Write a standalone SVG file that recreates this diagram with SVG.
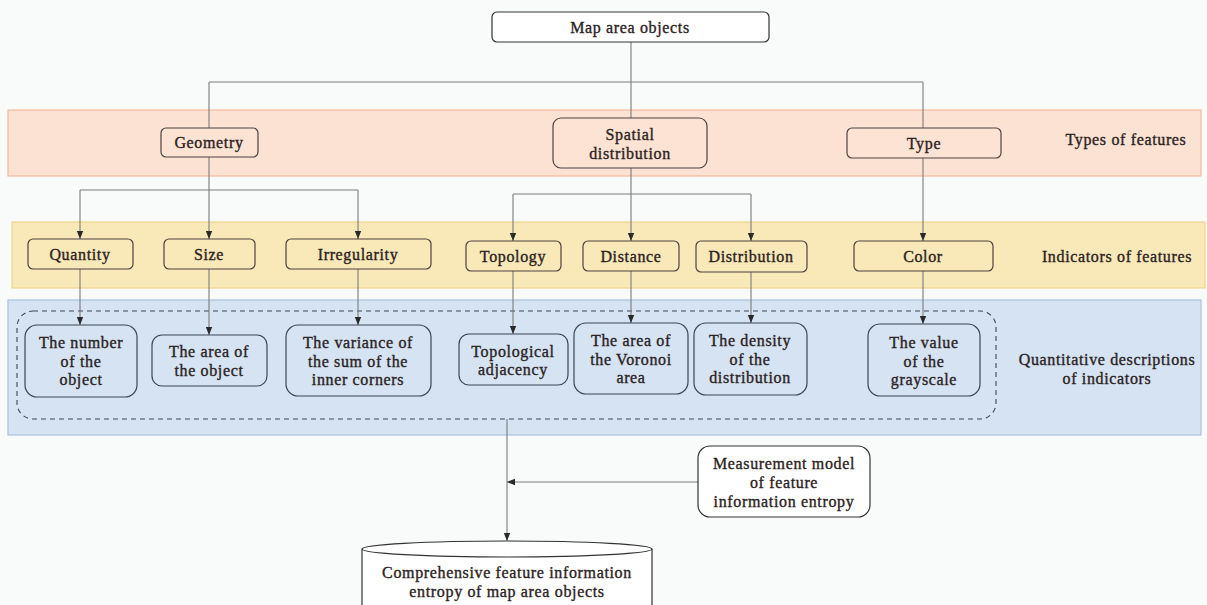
<svg xmlns="http://www.w3.org/2000/svg" width="1207" height="605" viewBox="0 0 1207 605">
<defs>
<marker id="arr" markerUnits="userSpaceOnUse" markerWidth="8" markerHeight="8" viewBox="0 0 8 8" refX="8" refY="4" orient="auto">
<path d="M0,0.8 L8,4 L0,7.2 Z" fill="#2a2a2a"/>
</marker>
<style>
.t,.lbl{font-family:"Liberation Serif","Times New Roman",serif;font-size:16px;font-weight:normal;letter-spacing:0.65px;fill:#2b2222;stroke:#2b2222;stroke-width:0.35px;text-anchor:middle}
.c{fill:none;stroke:#7a7a7a;stroke-width:1.1}
.a{marker-end:url(#arr)}
.o{fill:#fde3d3;stroke:#4e4242;stroke-width:1.2}
.y{fill:#f9e8b8;stroke:#4e4242;stroke-width:1.2}
.b{fill:#d5e3f3;stroke:#3d4756;stroke-width:1.2}
.w{fill:#ffffff;stroke:#333333;stroke-width:1.2}
</style>
</defs>
<rect x="0" y="0" width="1207" height="605" fill="#f9fafa"/>
<g id="bands">
<rect x="8" y="110" width="1193" height="66" fill="#fce2d2" stroke="#f4b99a" stroke-width="1.2"/>
<rect x="12" y="222" width="1193" height="66" fill="#f9e8b8" stroke="#f0d48c" stroke-width="1.2"/>
<rect x="8" y="300" width="1193" height="135" fill="#d5e3f3" stroke="#a9c1e2" stroke-width="1.2"/>
<rect x="17" y="311" width="979" height="108" rx="16" fill="none" stroke="#3d4756" stroke-width="1.1" stroke-dasharray="5,4"/>
</g>
<g id="band-labels">
<text class="lbl" x="1126" y="145">Types of features</text>
<text class="lbl" x="1117" y="262">Indicators of features</text>
<text class="lbl" x="1107" y="365">Quantitative descriptions</text>
<text class="lbl" x="1107" y="384">of indicators</text>
</g>
<g id="connectors">
<path class="c" d="M631,42 V118"/>
<path class="c" d="M209,82 H923"/>
<path class="c" d="M209,82 V128"/>
<path class="c" d="M923,82 V128"/>
<path class="c" d="M209,157 V190 M80,190 H358"/>
<path class="c a" d="M80,190 V239"/>
<path class="c a" d="M209,190 V239"/>
<path class="c a" d="M358,190 V239"/>
<path class="c" d="M631,168 V194 M513,194 H751"/>
<path class="c a" d="M513,194 V241"/>
<path class="c a" d="M631,194 V241"/>
<path class="c a" d="M751,194 V241"/>
<path class="c a" d="M923,158 V241"/>
<path class="c a" d="M80,269 V325"/>
<path class="c a" d="M209,269 V335"/>
<path class="c a" d="M358,269 V325"/>
<path class="c a" d="M513,271 V334"/>
<path class="c a" d="M631,271 V323"/>
<path class="c a" d="M751,272 V323"/>
<path class="c a" d="M923,271 V324"/>
<path class="c a" d="M507,419 V541"/>
<path class="c a" d="M698,482 H507"/>
</g>
<g id="map-area-objects"><rect class="w" x="492" y="12" width="277" height="30" rx="5"/><text class="t" x="630" y="33">Map area objects</text></g>
<g id="geometry"><rect class="o" x="161" y="128" width="97" height="29" rx="5"/><text class="t" x="209" y="148">Geometry</text></g>
<g id="spatial-distribution"><rect class="o" x="553" y="118" width="154" height="50" rx="8"/><text class="t" x="630" y="140">Spatial</text><text class="t" x="630" y="159">distribution</text></g>
<g id="type"><rect class="o" x="847" y="128" width="154" height="30" rx="5"/><text class="t" x="924" y="149">Type</text></g>
<g id="quantity"><rect class="y" x="28" y="239" width="105" height="30" rx="5"/><text class="t" x="80" y="260">Quantity</text></g>
<g id="size"><rect class="y" x="164" y="239" width="91" height="30" rx="5"/><text class="t" x="209" y="260">Size</text></g>
<g id="irregularity"><rect class="y" x="286" y="239" width="145" height="30" rx="5"/><text class="t" x="358" y="260">Irregularity</text></g>
<g id="topology"><rect class="y" x="466" y="241" width="95" height="30" rx="5"/><text class="t" x="513" y="262">Topology</text></g>
<g id="distance"><rect class="y" x="583" y="241" width="96" height="30" rx="5"/><text class="t" x="631" y="262">Distance</text></g>
<g id="distribution"><rect class="y" x="696" y="241" width="111" height="31" rx="5"/><text class="t" x="751" y="262">Distribution</text></g>
<g id="color"><rect class="y" x="854" y="241" width="139" height="30" rx="5"/><text class="t" x="923" y="262">Color</text></g>
<g id="number-of-object"><rect class="b" x="25" y="325" width="112" height="72" rx="12"/><text class="t" x="81" y="348">The number</text><text class="t" x="81" y="367">of the</text><text class="t" x="81" y="385">object</text></g>
<g id="area-of-object"><rect class="b" x="152" y="335" width="115" height="51" rx="10"/><text class="t" x="209" y="357">The area of</text><text class="t" x="209" y="376">the object</text></g>
<g id="variance"><rect class="b" x="286" y="325" width="145" height="71" rx="12"/><text class="t" x="358" y="348">The variance of</text><text class="t" x="358" y="367">the sum of the</text><text class="t" x="358" y="385">inner corners</text></g>
<g id="topological-adjacency"><rect class="b" x="459" y="334" width="109" height="51" rx="10"/><text class="t" x="513" y="357">Topological</text><text class="t" x="513" y="375">adjacency</text></g>
<g id="voronoi"><rect class="b" x="574" y="323" width="114" height="71" rx="12"/><text class="t" x="631" y="346">The area of</text><text class="t" x="631" y="365">the Voronoi</text><text class="t" x="631" y="383">area</text></g>
<g id="density"><rect class="b" x="694" y="323" width="113" height="72" rx="12"/><text class="t" x="750" y="346">The density</text><text class="t" x="750" y="365">of the</text><text class="t" x="750" y="383">distribution</text></g>
<g id="grayscale"><rect class="b" x="868" y="324" width="112" height="72" rx="12"/><text class="t" x="924" y="348">The value</text><text class="t" x="924" y="367">of the</text><text class="t" x="924" y="385">grayscale</text></g>
<g id="measurement-model"><rect class="w" x="698" y="446" width="172" height="71" rx="12"/><text class="t" x="784" y="469">Measurement model</text><text class="t" x="784" y="488">of feature</text><text class="t" x="784" y="507">information entropy</text></g>
<g id="comprehensive-entropy">
<path d="M362,549 V620 H652 V549" fill="#ffffff" stroke="#333333" stroke-width="1.2"/>
<ellipse cx="507" cy="549" rx="145" ry="8" fill="#ffffff" stroke="#333333" stroke-width="1.2"/>
<text class="t" x="507" y="578">Comprehensive feature information</text>
<text class="t" x="507" y="597">entropy of map area objects</text>
</g>
</svg>
